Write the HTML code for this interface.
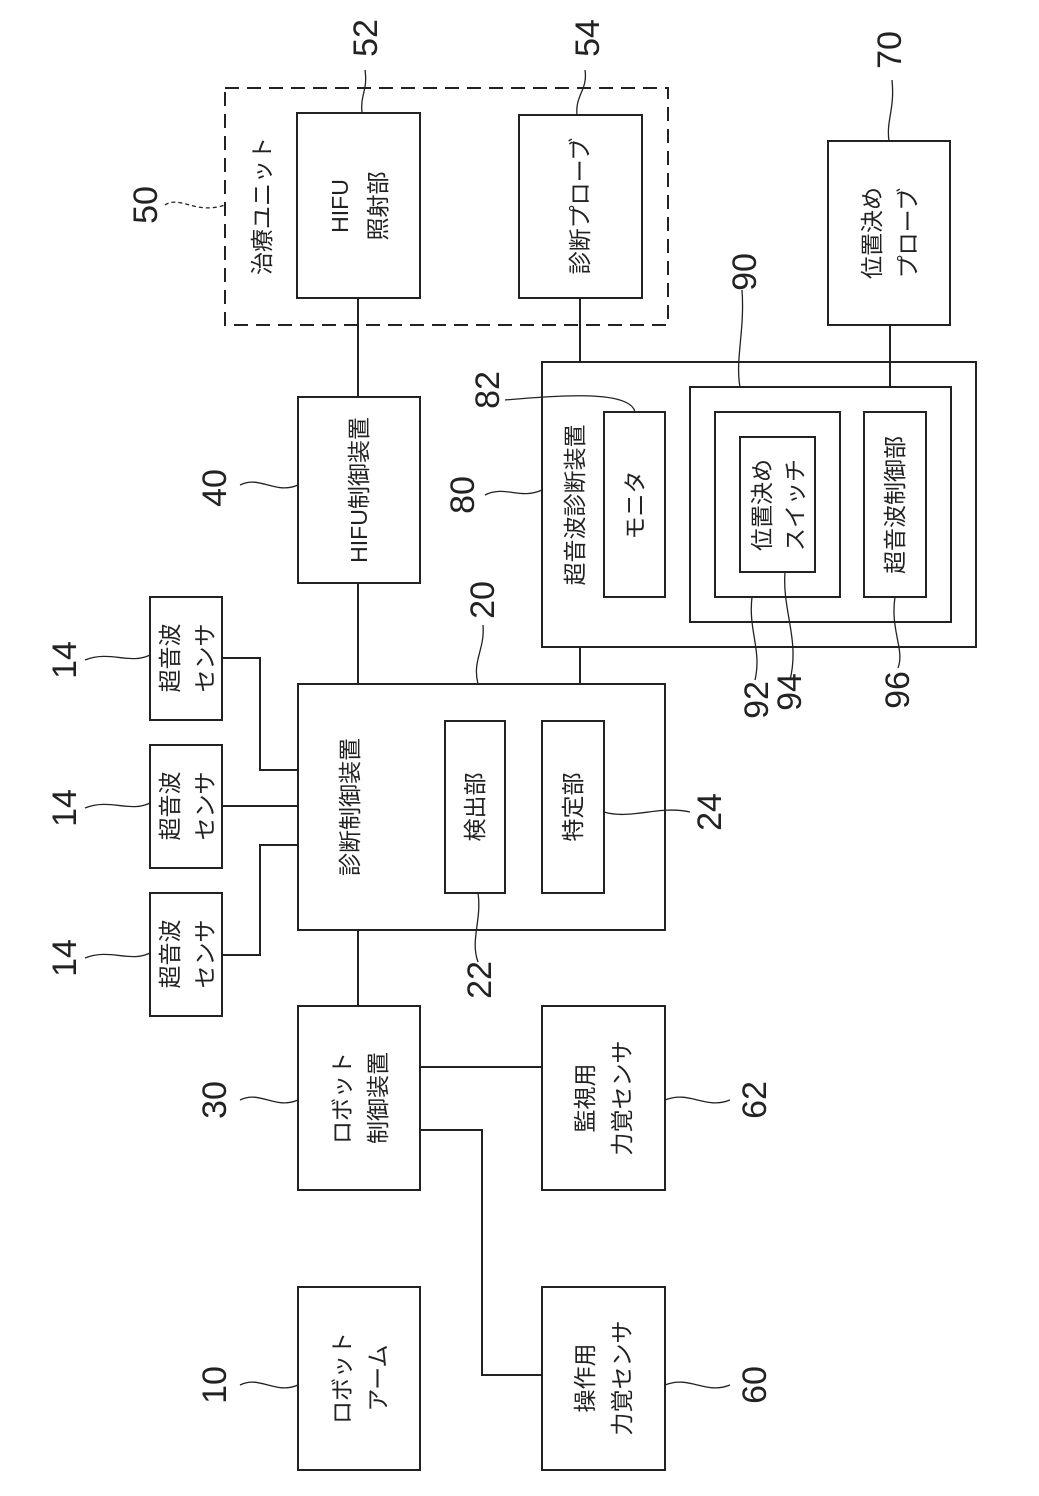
<!DOCTYPE html>
<html><head><meta charset="utf-8"><style>body{margin:0;background:#fff}svg{display:block}text{font-family:"Liberation Sans","Noto Sans CJK JP",sans-serif;fill:#222}</style></head><body>
<svg width="1039" height="1496" viewBox="0 0 1039 1496" xmlns="http://www.w3.org/2000/svg">
<g fill="none" stroke="#222" stroke-width="2">
<rect x="225" y="88" width="443" height="237" stroke-dasharray="14,8"/>
<rect x="297" y="113" width="123" height="185"/>
<rect x="519" y="115" width="123" height="183"/>
<rect x="828" y="141" width="122" height="184"/>
<rect x="298" y="397" width="122" height="186"/>
<rect x="542" y="362" width="434" height="285"/>
<rect x="604" y="412" width="61" height="185"/>
<rect x="690" y="387" width="261" height="235"/>
<rect x="715" y="412" width="125" height="185"/>
<rect x="740" y="437" width="75" height="135"/>
<rect x="864" y="412" width="62" height="185"/>
<rect x="298" y="684" width="367" height="246"/>
<rect x="445" y="721" width="60" height="172"/>
<rect x="542" y="721" width="62" height="172"/>
<rect x="150" y="597" width="72" height="123"/>
<rect x="150" y="745" width="72" height="123"/>
<rect x="150" y="893" width="72" height="123"/>
<rect x="298" y="1006" width="122" height="184"/>
<rect x="542" y="1006" width="123" height="184"/>
<rect x="298" y="1287" width="122" height="183"/>
<rect x="542" y="1287" width="123" height="183"/>
<path d="M358 298V397M580 298V362M890 325V387M358 583V684M580 647V684M358 930V1006M222 658H260V770H298M222 806H298M222 955H260V845H298M420 1067H542M420 1130H482V1375H542"/>
<g stroke-width="1.3">
<path d="M365 70C368 90 360 95 362 113"/>
<path d="M585 70C588 90 575 95 577 115"/>
<path d="M892 80C895 110 886 120 889 141"/>
<path d="M165 205C180 195 195 215 225 205" stroke-dasharray="4,3"/>
<path d="M240 485C260 475 275 495 298 485"/>
<path d="M505 400C560 395 630 390 635 412"/>
<path d="M485 495C505 485 520 500 542 490"/>
<path d="M742 290C745 330 735 360 740 387"/>
<path d="M483 625C485 650 472 660 478 684"/>
<path d="M604 812C630 820 660 805 690 812"/>
<path d="M478 893C482 920 470 940 478 962"/>
<path d="M752 597C748 630 762 650 755 680"/>
<path d="M785 572C782 610 800 640 790 680"/>
<path d="M895 597C890 630 905 650 898 668"/>
<path d="M85 660C110 650 130 665 150 655"/>
<path d="M85 808C110 798 130 813 150 803"/>
<path d="M85 958C110 948 130 963 150 953"/>
<path d="M240 1100C260 1090 275 1110 298 1100"/>
<path d="M665 1100C690 1090 705 1110 730 1100"/>
<path d="M240 1385C260 1375 275 1395 298 1385"/>
<path d="M665 1385C690 1375 705 1395 730 1385"/>
</g></g>
<g font-size="23" text-anchor="middle" dominant-baseline="central">
<text transform="translate(262,206) rotate(-90)">治療ユニット</text>
<text transform="translate(340,206) rotate(-90)">HIFU</text>
<text transform="translate(378,206) rotate(-90)">照射部</text>
<text transform="translate(580,206) rotate(-90)">診断プローブ</text>
<text transform="translate(872,233) rotate(-90)">位置決め</text>
<text transform="translate(908,233) rotate(-90)">プローブ</text>
<text transform="translate(359,490) rotate(-90)">HIFU制御装置</text>
<text transform="translate(575,505) rotate(-90)">超音波診断装置</text>
<text transform="translate(635,505) rotate(-90)">モニタ</text>
<text transform="translate(762,505) rotate(-90)">位置決め</text>
<text transform="translate(795,505) rotate(-90)">スイッチ</text>
<text transform="translate(895,505) rotate(-90)">超音波制御部</text>
<text transform="translate(350,807) rotate(-90)">診断制御装置</text>
<text transform="translate(475,807) rotate(-90)">検出部</text>
<text transform="translate(573,807) rotate(-90)">特定部</text>
<text transform="translate(170,658) rotate(-90)">超音波</text>
<text transform="translate(205,658) rotate(-90)">センサ</text>
<text transform="translate(170,806) rotate(-90)">超音波</text>
<text transform="translate(205,806) rotate(-90)">センサ</text>
<text transform="translate(170,954) rotate(-90)">超音波</text>
<text transform="translate(205,954) rotate(-90)">センサ</text>
<text transform="translate(342,1098) rotate(-90)">ロボット</text>
<text transform="translate(378,1098) rotate(-90)">制御装置</text>
<text transform="translate(585,1098) rotate(-90)">監視用</text>
<text transform="translate(622,1098) rotate(-90)">力覚センサ</text>
<text transform="translate(342,1378) rotate(-90)">ロボット</text>
<text transform="translate(378,1378) rotate(-90)">アーム</text>
<text transform="translate(585,1378) rotate(-90)">操作用</text>
<text transform="translate(622,1378) rotate(-90)">力覚センサ</text>
</g>
<g font-size="34" text-anchor="middle" dominant-baseline="central">
<text transform="translate(366,38) rotate(-90)">52</text>
<text transform="translate(588,38) rotate(-90)">54</text>
<text transform="translate(890,50) rotate(-90)">70</text>
<text transform="translate(146,205) rotate(-90)">50</text>
<text transform="translate(215,488) rotate(-90)">40</text>
<text transform="translate(488,390) rotate(-90)">82</text>
<text transform="translate(463,495) rotate(-90)">80</text>
<text transform="translate(745,272) rotate(-90)">90</text>
<text transform="translate(483,600) rotate(-90)">20</text>
<text transform="translate(710,812) rotate(-90)">24</text>
<text transform="translate(480,980) rotate(-90)">22</text>
<text transform="translate(757,700) rotate(-90)">92</text>
<text transform="translate(790,692) rotate(-90)">94</text>
<text transform="translate(898,690) rotate(-90)">96</text>
<text transform="translate(65,660) rotate(-90)">14</text>
<text transform="translate(65,808) rotate(-90)">14</text>
<text transform="translate(65,958) rotate(-90)">14</text>
<text transform="translate(215,1100) rotate(-90)">30</text>
<text transform="translate(755,1100) rotate(-90)">62</text>
<text transform="translate(215,1385) rotate(-90)">10</text>
<text transform="translate(755,1385) rotate(-90)">60</text>
</g>
</svg>
</body></html>
